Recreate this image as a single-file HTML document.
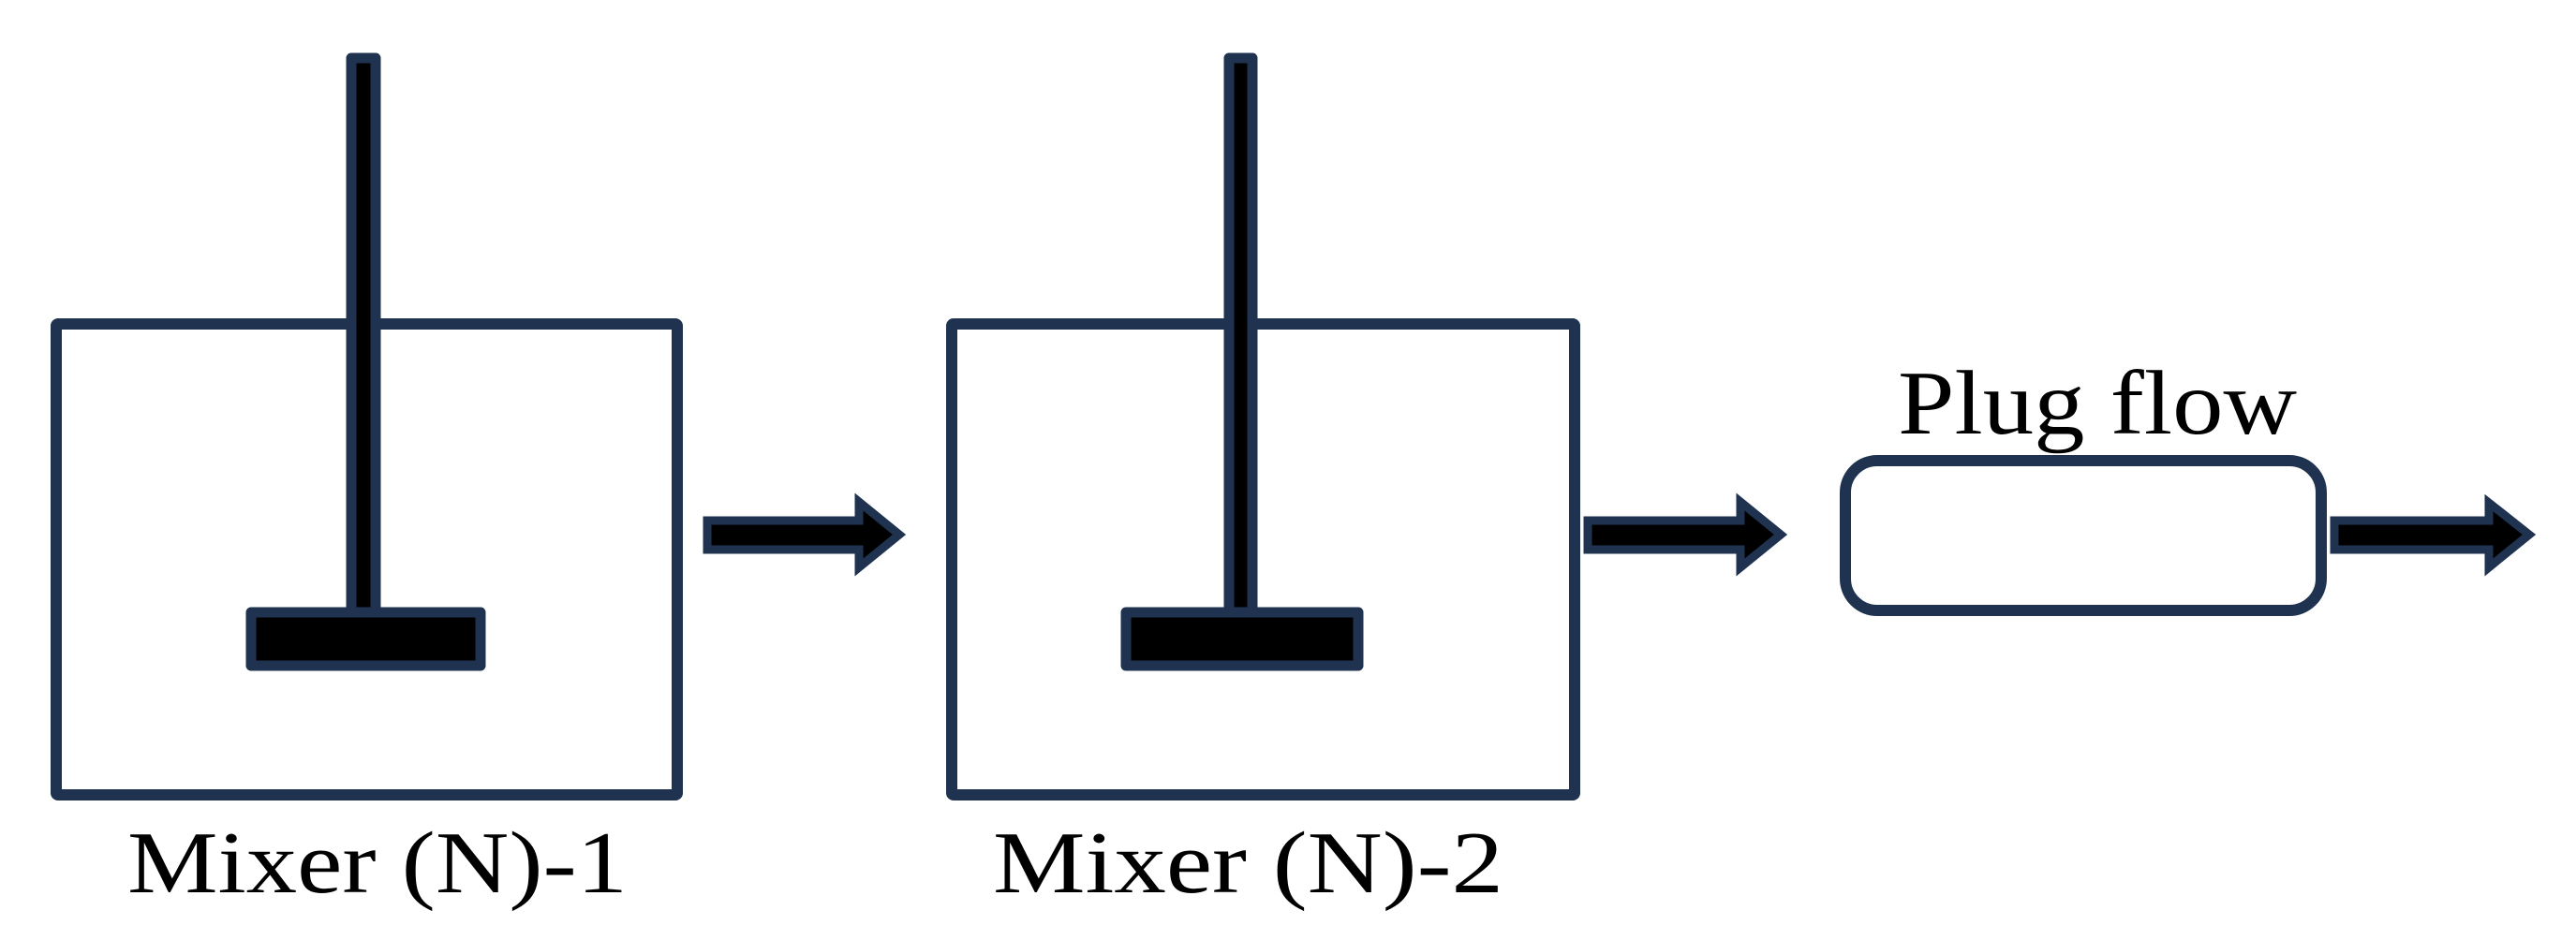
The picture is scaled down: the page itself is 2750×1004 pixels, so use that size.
<!DOCTYPE html>
<html><head><meta charset="utf-8"><style>
html,body{margin:0;padding:0;background:#fff;}
svg{display:block;}
text{font-family:"Liberation Serif","Times New Roman",serif;}
</style></head><body>
<svg width="2750" height="1004" viewBox="0 0 2750 1004" xmlns="http://www.w3.org/2000/svg">
<rect width="2750" height="1004" fill="#fff"/>
<g fill="none" stroke="#1f3350" stroke-width="12" stroke-linejoin="round">
  <rect x="60" y="346" width="663" height="503" rx="2"/>
  <rect x="1016" y="346" width="665" height="503" rx="2"/>
  <rect x="1970" y="492" width="508" height="160" rx="34"/>
</g>
<g fill="#000" stroke="#1f3350" stroke-width="11" stroke-linejoin="round">
  <rect x="375" y="62" width="26" height="592"/>
  <rect x="268" y="654" width="245" height="57"/>
  <rect x="1312" y="62" width="25" height="592"/>
  <rect x="1202" y="654" width="248" height="57"/>
</g>
<g fill="#000" stroke="#1f3350" stroke-width="9" stroke-linejoin="miter">
  <polygon points="755,556 917,556 917,536 960,571 917,606 917,587 755,587"/>
  <polygon points="1695,556 1858,556 1858,536 1901,571 1858,606 1858,587 1695,587"/>
  <polygon points="2492,556 2657,556 2657,537 2700,571 2657,606 2657,587 2492,587"/>
</g>
<g fill="#000">
  <text x="136" y="953" font-size="94" textLength="534" lengthAdjust="spacingAndGlyphs">Mixer (N)-1</text>
  <text x="1060" y="953" font-size="94" textLength="545" lengthAdjust="spacingAndGlyphs">Mixer (N)-2</text>
  <text x="2026" y="463" font-size="98" textLength="426" lengthAdjust="spacingAndGlyphs">Plug flow</text>
</g>
</svg>
</body></html>
